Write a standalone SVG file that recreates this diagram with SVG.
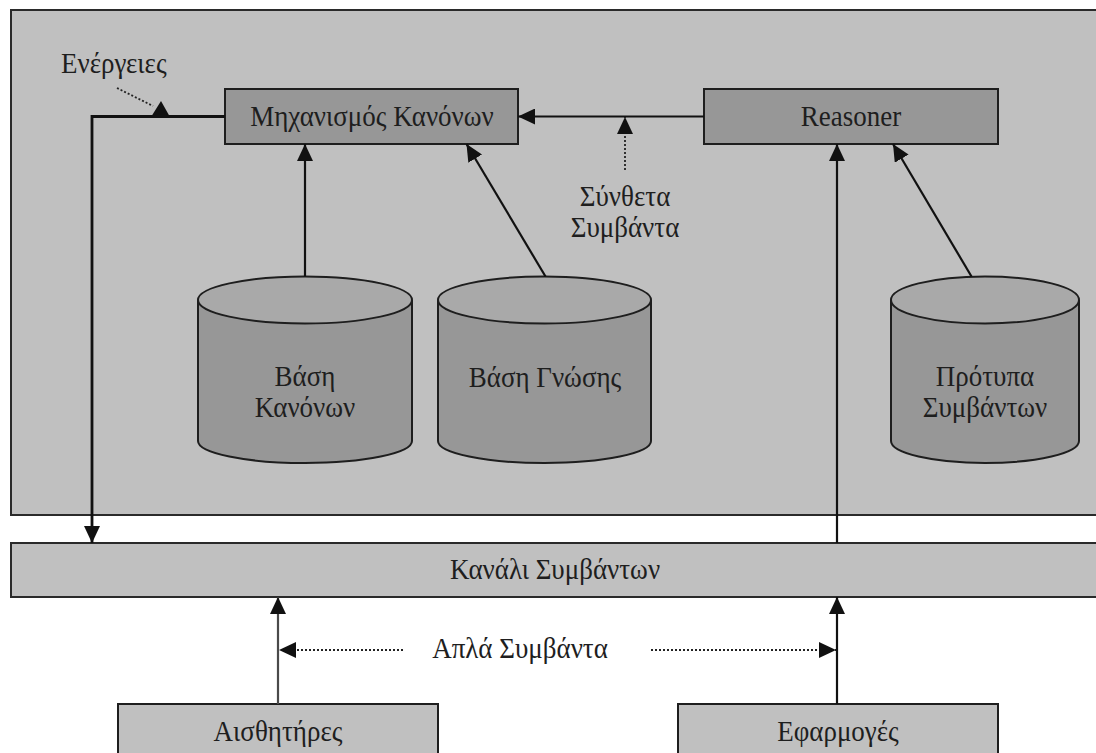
<svg xmlns="http://www.w3.org/2000/svg" width="1096" height="753" viewBox="0 0 1096 753">
  <style>
    .panel { fill: #c0c0c0; stroke: #2a2a2a; stroke-width: 2; }
    .box { fill: #979797; stroke: #1e1e1e; stroke-width: 2; }
    .lightbox { fill: #c0c0c0; stroke: #1e1e1e; stroke-width: 2; }
    .cyl-body { fill: #979797; stroke: #1e1e1e; stroke-width: 2; }
    .cyl-top { fill: #a9a9a9; stroke: #1e1e1e; stroke-width: 2; }
    .lbl { font-family: "Liberation Serif", "DejaVu Serif", serif; font-size: 27px; fill: #1e1e1e; text-anchor: middle; }
    .lbl-start { font-family: "Liberation Serif", "DejaVu Serif", serif; font-size: 27px; fill: #1e1e1e; }
    .edge { fill: none; stroke: #111; stroke-width: 2.2; }
    .edge-grey { fill: none; stroke: #4a4a4a; stroke-width: 2.2; }
    .dotted { fill: none; stroke: #222; stroke-width: 1.8; stroke-dasharray: 2 2; }
  </style>
  <defs>
    <marker id="arrow" markerUnits="userSpaceOnUse" markerWidth="18" markerHeight="16" refX="17" refY="8" orient="auto">
      <path d="M0,0 L17,8 L0,16 Z" fill="#111"/>
    </marker>
  </defs>

  <rect x="0" y="0" width="1096" height="753" fill="#ffffff"/>

  <!-- outer system panel -->
  <g id="system-panel">
    <rect class="panel" x="11" y="10" width="1100" height="505"/>
  </g>

  <!-- event channel bar; labels use a slightly tall glyph scale -->
  <g id="event-channel">
    <rect class="panel" x="11" y="543" width="1100" height="54"/>
    <text class="lbl" transform="translate(555,579) scale(1,1.12)">Κανάλι Συμβάντων</text>
  </g>

  <g id="rule-engine">
    <rect class="box" x="225" y="89" width="293" height="55"/>
    <text class="lbl" transform="translate(372,125.5) scale(1,1.12)">Μηχανισμός Κανόνων</text>
  </g>

  <g id="reasoner">
    <rect class="box" x="704" y="89" width="294" height="55"/>
    <text class="lbl" transform="translate(851,125.5) scale(1,1.12)">Reasoner</text>
  </g>

  <g id="rule-base">
    <path class="cyl-body" d="M198,300 L198,441 A107,22 0 0 0 412,441 L412,300"/>
    <ellipse class="cyl-top" cx="305" cy="300" rx="107" ry="23.5"/>
    <text class="lbl" transform="translate(305,386) scale(1,1.1)">Βάση</text>
    <text class="lbl" transform="translate(305,417) scale(1,1.1)">Κανόνων</text>
  </g>

  <g id="knowledge-base">
    <path class="cyl-body" d="M438,300 L438,441 A106.5,22 0 0 0 651,441 L651,300"/>
    <ellipse class="cyl-top" cx="544.5" cy="300" rx="106.5" ry="23.5"/>
    <text class="lbl" transform="translate(545,387) scale(1,1.12)">Βάση Γνώσης</text>
  </g>

  <g id="event-patterns">
    <path class="cyl-body" d="M891,300 L891,441 A94,22 0 0 0 1079,441 L1079,300"/>
    <ellipse class="cyl-top" cx="985" cy="300" rx="94" ry="23.5"/>
    <text class="lbl" transform="translate(985,385.5) scale(1,1.08)">Πρότυπα</text>
    <text class="lbl" transform="translate(985,417) scale(1,1.08)">Συμβάντων</text>
  </g>

  <g id="sensors">
    <rect class="lightbox" x="118" y="704" width="320" height="60"/>
    <text class="lbl" transform="translate(278,741) scale(1,1.12)">Αισθητήρες</text>
  </g>

  <g id="applications">
    <rect class="lightbox" x="678" y="704" width="320" height="60"/>
    <text class="lbl" transform="translate(838,741) scale(1,1.12)">Εφαρμογές</text>
  </g>

  <!-- connectors -->
  <g id="connectors">
    <!-- actions: rule engine back to the event channel -->
    <path class="edge" style="stroke-width:2.8" d="M225,116.5 L92,116.5 L92,543" marker-end="url(#arrow)"/>
    <!-- reasoner to rule engine -->
    <path class="edge" d="M704,116.5 L518,116.5" marker-end="url(#arrow)"/>
    <!-- rule base to rule engine -->
    <path class="edge" d="M305,276.5 L305,144" marker-end="url(#arrow)"/>
    <!-- knowledge base to rule engine -->
    <path class="edge" d="M545.5,276.5 L466.5,144" marker-end="url(#arrow)"/>
    <!-- event channel to reasoner -->
    <path class="edge" d="M837,543 L837,144" marker-end="url(#arrow)"/>
    <!-- event patterns to reasoner -->
    <path class="edge" d="M971.5,276.5 L893,144" marker-end="url(#arrow)"/>
    <!-- sensors and applications into the channel -->
    <path class="edge-grey" d="M278,704 L278,597" marker-end="url(#arrow)"/>
    <path class="edge" d="M837,704 L837,597" marker-end="url(#arrow)"/>

    <!-- annotation pointers -->
    <path class="dotted" d="M117,88 L153,106"/>
    <polygon points="151,117 170,117 161,101" fill="#111"/>
    <path class="dotted" d="M625,170 L625,117" marker-end="url(#arrow)"/>
    <path class="dotted" d="M403,650 L279,650" marker-end="url(#arrow)"/>
    <path class="dotted" d="M651,650 L836,650" marker-end="url(#arrow)"/>
  </g>

  <!-- free labels -->
  <g id="labels">
    <text class="lbl-start" transform="translate(61,73) scale(1,1.12)">Ενέργειες</text>
    <text class="lbl" transform="translate(625,206) scale(1,1.1)">Σύνθετα</text>
    <text class="lbl" transform="translate(625,237) scale(1,1.1)">Συμβάντα</text>
    <text class="lbl" transform="translate(520,658) scale(1,1.12)">Απλά Συμβάντα</text>
  </g>
</svg>
